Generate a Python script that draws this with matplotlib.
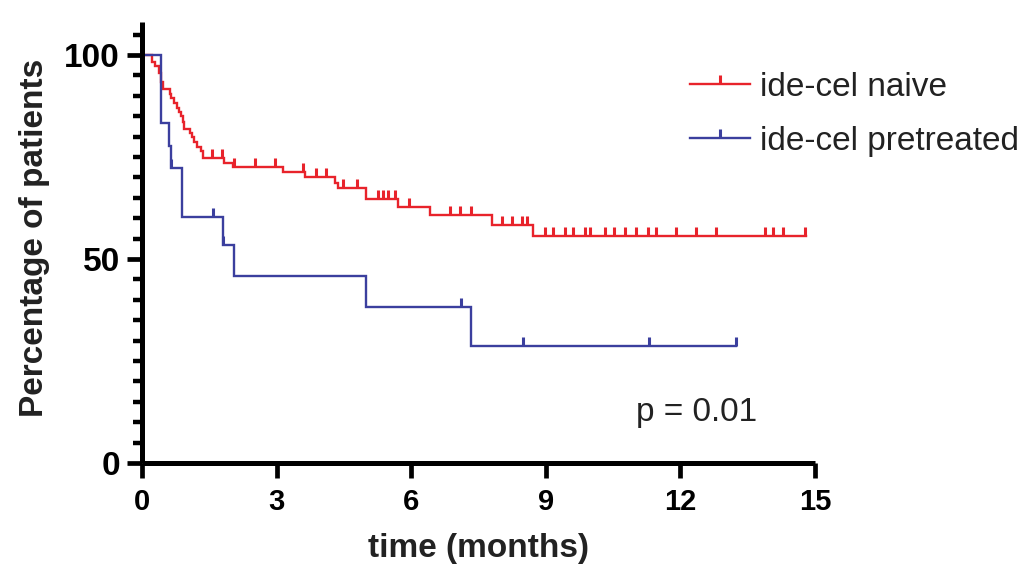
import numpy as np
import matplotlib
matplotlib.use("Agg")
import matplotlib.pyplot as plt
from matplotlib.path import Path
from matplotlib.lines import Line2D
from matplotlib.ticker import MultipleLocator

# ---- data ----
naive_times = [0, 0.22, 0.30, 0.37, 0.42, 0.47, 0.62, 0.65, 0.71, 0.77, 0.82, 0.88,
               0.91, 0.93, 1.06, 1.12, 1.17, 1.23, 1.32, 1.36, 1.83, 2.03, 3.15,
               3.64, 4.30, 4.36, 5.00, 5.71, 6.41, 7.79, 8.72]
naive_surv = [100, 98.3, 97.2, 95.6, 93.5, 91.7, 90.5, 89.5, 88.2, 87.0, 86.0, 85.0,
              83.6, 81.9, 80.9, 79.8, 78.6, 77.5, 76.4, 74.8, 73.6, 72.5, 71.3,
              70.0, 68.6, 67.3, 64.7, 62.8, 60.7, 58.4, 55.6]
naive_end = 14.8
naive_censor = [1.57, 1.78, 2.05, 2.52, 2.97, 3.58, 3.88, 4.11, 4.48, 4.80, 5.25,
                5.37, 5.49, 5.65, 5.95, 6.86, 7.08, 7.33, 8.02, 8.25, 8.48, 8.58,
                8.99, 9.16, 9.42, 9.61, 9.87, 9.98, 10.31, 10.53, 10.76, 11.02,
                11.27, 11.46, 11.91, 12.35, 12.80, 13.88, 14.06, 14.28, 14.77]

pre_times = [0, 0.42, 0.60, 0.65, 0.90, 1.80, 2.05, 5.00, 7.33]
pre_surv = [100, 83.3, 77.8, 72.2, 60.2, 53.5, 45.9, 38.2, 28.7]
pre_end = 13.25
pre_censor = [0.65, 1.58, 1.80, 7.10, 8.50, 11.30, 13.25]

series_labels = ["ide-cel naive", "ide-cel pretreated"]
series_colors = ["#e8232b", "#3b3f9e"]
x_ticks = [0, 3, 6, 9, 12, 15]
y_ticks = [0, 50, 100]
x_label = "time (months)"
y_label = "Percentage of patients"
p_text = "p = 0.01"

# ---- figure ----
W, H = 1025, 571
fig = plt.figure(figsize=(W / 100, H / 100), dpi=100)
ax = fig.add_axes([142 / W, (H - 463) / H, (815 - 142) / W, 440.6 / H])

tick_path = Path([(0, 0), (0, 1)], [Path.MOVETO, Path.LINETO])
FONT = ["Liberation Sans", "DejaVu Sans"]


def level_at(times, surv, t):
    idx = np.searchsorted(np.asarray(times), t, side="right") - 1
    return np.asarray(surv)[idx]


def draw(times, surv, end, censor, color):
    tt = list(times) + [end]
    ss = list(surv) + [surv[-1]]
    ax.step(tt, ss, where="post", color=color, lw=1.7, solid_joinstyle="miter")
    c = np.asarray(censor)
    ax.plot(c, level_at(times, surv, c), linestyle="none", marker=tick_path,
            markersize=13, markeredgewidth=2.2, color=color)


draw(naive_times, naive_surv, naive_end, naive_censor, series_colors[0])
draw(pre_times, pre_surv, pre_end, pre_censor, series_colors[1])

ax.set_xlim(0, 15)
ax.set_ylim(0, 108)
for s in ["top", "right"]:
    ax.spines[s].set_visible(False)
for s in ["left", "bottom"]:
    ax.spines[s].set_linewidth(3.6)
    ax.spines[s].set_color("black")
    ax.spines[s].set_capstyle("butt")

ax.set_xticks(x_ticks)
ax.set_yticks(y_ticks)
ax.yaxis.set_minor_locator(MultipleLocator(5))
ax.tick_params(axis="both", which="major", length=11, width=3.4, color="black")
ax.tick_params(axis="y", which="minor", length=6.5, width=3.2, color="black")
ax.tick_params(axis="x", which="major", pad=7)
ax.tick_params(axis="y", which="major", pad=5)

for lab in ax.get_yticklabels():
    lab.set_fontfamily(FONT)
    lab.set_fontweight("bold")
    lab.set_fontsize(24)
for lab in ax.get_xticklabels():
    lab.set_fontfamily(FONT)
    lab.set_fontweight("bold")
    lab.set_fontsize(21)

ax.set_xlabel(x_label, fontsize=24, fontweight="bold", family=FONT,
              labelpad=12, color="#222222")
ax.set_ylabel(y_label, fontsize=24, fontweight="bold", family=FONT,
              color="#222222")
ax.yaxis.set_label_coords(-0.137, 0.51)

ax.text(11.0, 12.3, p_text, fontsize=24, family=FONT,
        color="#222222", ha="left", va="center")

handles = [Line2D([], [], color=c, lw=1.7, marker=tick_path, markersize=13,
                  markeredgewidth=2.2) for c in series_colors]
fig.legend(handles, series_labels, loc="upper left",
           bbox_to_anchor=(690 / W, 1 - 72 / H), frameon=False, borderpad=0,
           borderaxespad=0, handlelength=1.8, handletextpad=0.3, labelspacing=0.68,
           numpoints=1, prop={"family": FONT, "size": 24},
           labelcolor="#222222")

fig.savefig("out.png", dpi=100)
